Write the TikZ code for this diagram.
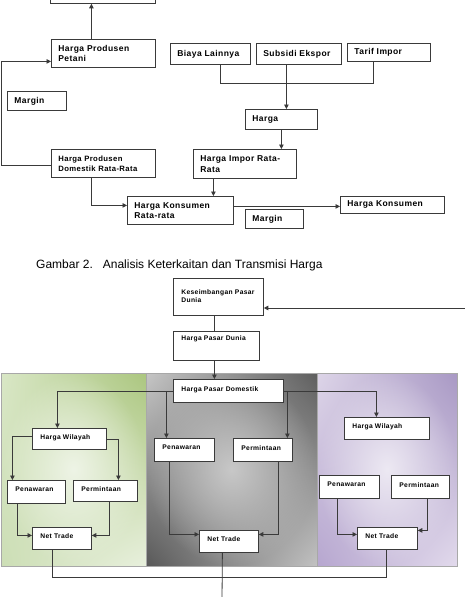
\documentclass[tikz,border=0pt]{standalone}
\usepackage{fontspec}
\setmainfont{Liberation Sans}
\newfontfamily\hurufkotak[LetterSpace=5]{Liberation Sans}
\usetikzlibrary{arrows.meta,shadings,fadings}

\definecolor{garis}{HTML}{3A3A3A}
\definecolor{tepi}{HTML}{A8A8A8}
\definecolor{hijauA}{HTML}{D9E7C6}
\definecolor{hijauB}{HTML}{ABC67F}
\definecolor{hijauC}{HTML}{CCDEB5}
\definecolor{hijauD}{HTML}{E8F0DD}
\definecolor{hijauT}{HTML}{EEF4E6}
\definecolor{abuA}{HTML}{C6C6C6}
\definecolor{abuB}{HTML}{5E5E5E}
\definecolor{abuC}{HTML}{585858}
\definecolor{abuD}{HTML}{C2C2C2}
\definecolor{abuT}{HTML}{C8C8C8}
\definecolor{unguA}{HTML}{DDD5E8}
\definecolor{unguB}{HTML}{A898C4}
\definecolor{unguC}{HTML}{B6A6CF}
\definecolor{unguD}{HTML}{E2DAEC}
\definecolor{unguT}{HTML}{EDE9F3}

\tikzfading[name=terang, inner color=transparent!0, outer color=transparent!100]

\begin{document}
\begin{tikzpicture}[x=1pt,y=-1pt,
    kotak/.style={draw=garis, fill=white, line width=0.8pt, anchor=north west,
      inner ysep=0pt, align=left, execute at begin node={\hyphenpenalty=10000 }},
    besar/.style={kotak, inner xsep=7pt, font=\hurufkotak\bfseries\fontsize{8.5}{10.5}\selectfont},
    sedang/.style={kotak, inner xsep=7pt, font=\hurufkotak\bfseries\fontsize{7.7}{10}\selectfont},
    kecil/.style={kotak, inner xsep=8pt, text depth=4.5pt, font=\hurufkotak\bfseries\fontsize{6.7}{8.3}\selectfont},
    panah/.style={draw=garis, line width=0.8pt, -{Triangle[length=4.5pt,width=4.5pt]}},
    hubung/.style={draw=garis, line width=0.8pt}]
\useasboundingbox (0,0) rectangle (465,597);

\shadedraw[draw=tepi, line width=0.5pt, upper left=hijauA, upper right=hijauB, lower left=hijauC, lower right=hijauD] (1,373) rectangle (146,566);
\fill[hijauT, path fading=terang] (1,373) rectangle (146,566);
\shadedraw[draw=tepi, line width=0.5pt, upper left=abuA, upper right=abuB, lower left=abuC, lower right=abuD] (146,373) rectangle (317,566);
\fill[abuT, path fading=terang] (146,373) rectangle (317,566);
\shadedraw[draw=tepi, line width=0.5pt, upper left=unguA, upper right=unguB, lower left=unguC, lower right=unguD] (317,373) rectangle (457,566);
\fill[unguT, path fading=terang] (317,373) rectangle (457,566);

\node[besar, minimum width=105pt, minimum height=33pt, text width=91pt] (atas) at (50,-30) {};
\node[besar, minimum width=104pt, minimum height=28pt, text width=90pt] (hpp) at (51,39) {Harga Produsen\\Petani};
\node[besar, minimum width=59pt, minimum height=19pt, text width=45pt] (margin1) at (7,91) {Margin};
\node[sedang, minimum width=104pt, minimum height=28pt, text width=90pt] (hpdr) at (51,149) {Harga Produsen\\Domestik Rata-Rata};
\node[besar, minimum width=80pt, minimum height=21pt, text width=66pt] (biaya) at (170,43) {Biaya Lainnya};
\node[besar, minimum width=85pt, minimum height=21pt, text width=71pt] (subsidi) at (256,43) {Subsidi Ekspor};
\node[besar, minimum width=83pt, minimum height=18pt, text width=69pt] (tarif) at (347,43) {Tarif Impor};
\node[besar, minimum width=72pt, minimum height=20pt, text width=58pt] (harga) at (245,109) {Harga};
\node[besar, minimum width=103pt, minimum height=29pt, text width=89pt] (hirr) at (193,149) {Harga Impor Rata-\\Rata};
\node[besar, minimum width=106pt, minimum height=28pt, text width=92pt] (hkrr) at (127,196) {Harga Konsumen\\Rata-rata};
\node[besar, minimum width=104pt, minimum height=17pt, text width=90pt] (hk) at (340,196) {Harga Konsumen};
\node[besar, minimum width=58pt, minimum height=19pt, text width=44pt] (margin2) at (245,209) {Margin};

\node[anchor=base west, inner sep=0pt, font=\fontsize{12}{14}\selectfont] (judul) at (36,268) {Gambar 2.\hspace{10pt}Analisis Keterkaitan dan Transmisi Harga};

\node[kecil, minimum width=90pt, minimum height=37pt, text width=74pt, text depth=9.5pt] (kpd) at (173,278) {Keseimbangan Pasar\\Dunia};
\node[kecil, minimum width=86pt, minimum height=29pt, text width=70pt, text depth=15pt] (hpdunia) at (173,331) {Harga Pasar Dunia};
\node[kecil, minimum width=110pt, minimum height=23pt, text width=94pt] (hpdom) at (173,379) {Harga Pasar Domestik};
\node[kecil, minimum width=74pt, minimum height=21pt, text width=58pt] (hwl) at (32,428) {Harga Wilayah};
\node[kecil, minimum width=58pt, minimum height=23pt, text width=42pt] (pnl) at (7,480) {Penawaran};
\node[kecil, minimum width=64pt, minimum height=21pt, text width=48pt] (pml) at (73,480) {Permintaan};
\node[kecil, minimum width=59pt, minimum height=22pt, text width=43pt] (ntl) at (32,527) {Net Trade};
\node[kecil, minimum width=60pt, minimum height=23pt, text width=44pt] (pnm) at (154,438) {Penawaran};
\node[kecil, minimum width=59pt, minimum height=23pt, text width=43pt] (pmm) at (233,438) {Permintaan};
\node[kecil, minimum width=59pt, minimum height=22pt, text width=43pt] (ntm) at (199,530) {Net Trade};
\node[kecil, minimum width=85pt, minimum height=22pt, text width=69pt] (hwr) at (344,417) {Harga Wilayah};
\node[kecil, minimum width=60pt, minimum height=23pt, text width=44pt] (pnr) at (319,475) {Penawaran};
\node[kecil, minimum width=58pt, minimum height=23pt, text width=42pt] (pmr) at (391,475) {Permintaan};
\node[kecil, minimum width=60pt, minimum height=22pt, text width=44pt] (ntr) at (357,527) {Net Trade};

\coordinate (kanan) at (466,308);
\coordinate (bawah) at (222,600);

\draw[panah] ([xshift=-12pt]hpp.north) -- ([xshift=-12pt]hpp.north |- atas.south);
\draw[panah] ([yshift=-2pt]hpdr.west) -- ++(-50,0) |- ([yshift=-8pt]hpp.west);
\draw[panah] ([xshift=-12pt]hpdr.south) |- ([yshift=5pt]hkrr.west);
\draw[hubung] ([xshift=10pt]biaya.south) -- ++(0,19) -| ([xshift=-15.5pt]tarif.south);
\draw[panah] ([xshift=-12.5pt]subsidi.south) -- ([xshift=-12.5pt]subsidi.south |- harga.north);
\draw[panah] (harga.south) -- (harga.south |- hirr.north);
\draw[panah] ([xshift=-31.5pt]hirr.south) -- ([xshift=-31.5pt]hirr.south |- hkrr.north);
\draw[panah] ([yshift=4pt]hkrr.east) -- ([yshift=4pt]hkrr.east -| hk.west);

\draw[panah] (kanan) -- (kanan -| kpd.east);
\draw[hubung] ([xshift=-4pt]kpd.south) -- ([xshift=-4pt]kpd.south |- hpdunia.north);
\draw[panah] ([xshift=-2pt]hpdunia.south) -- ([xshift=-2pt]hpdunia.south |- hpdom.north);
\draw[panah] (hpdom.west) -| ([xshift=-12pt]hwl.north);
\draw[panah] ([xshift=-18pt]pnm.north |- hpdom.west) -- ([xshift=-18pt]pnm.north);
\draw[panah] (hpdom.east) -| ([xshift=-10.5pt]hwr.north);
\draw[panah] ([xshift=24.5pt]pmm.north |- hpdom.east) -- ([xshift=24.5pt]pmm.north);
\draw[panah] ([yshift=2.5pt]hwl.west) -| ([xshift=-24pt]pnl.north);
\draw[panah] (hwl.east) -| ([xshift=13pt]pml.north);
\draw[panah] ([xshift=-19pt]pnl.south) |- ([yshift=3pt]ntl.west);
\draw[panah] ([xshift=4pt]pml.south) |- ([yshift=3pt]ntl.east);
\draw[panah] ([xshift=-15pt]pnm.south) |- ([yshift=7pt]ntm.west);
\draw[panah] ([xshift=15.5pt]pmm.south) |- ([yshift=7pt]ntm.east);
\draw[panah] ([xshift=-12pt]pnr.south) |- ([yshift=4pt]ntr.west);
\draw[panah] ([xshift=7pt]pmr.south) |- ([yshift=8pt]ntr.east);
\draw[hubung] ([xshift=-9.5pt]ntl.south) -- ++(0,28) -| ([xshift=-1pt]ntr.south);
\draw[hubung] ([xshift=-6.5pt]ntm.south) -- (bawah);
\end{tikzpicture}
\end{document}
